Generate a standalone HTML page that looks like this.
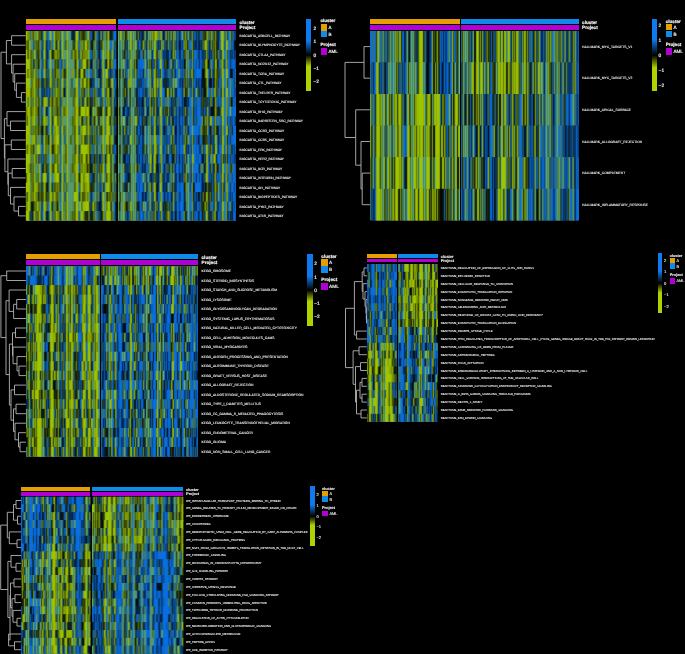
<!DOCTYPE html>
<html><head><meta charset="utf-8"><style>
html,body{margin:0;padding:0;background:#000;}
body{width:685px;height:654px;position:relative;overflow:hidden;font-family:"Liberation Sans",sans-serif;color:#f2f2f2;}
.r{position:absolute;}
.t{position:absolute;white-space:nowrap;line-height:1;transform:translateY(-50%);}
.b{font-weight:bold;}
#hm{position:absolute;left:0;top:0;}
.den{position:absolute;left:0;top:0;}
</style></head><body>
<div class="r fb" style="left:25.6px;top:31.00px;width:90.7px;height:9.48px;background:rgb(71,116,66)"></div><div class="r fb" style="left:117.8px;top:31.00px;width:118.0px;height:9.48px;background:rgb(64,111,74)"></div><div class="r fb" style="left:25.6px;top:40.48px;width:90.7px;height:9.48px;background:rgb(72,119,67)"></div><div class="r fb" style="left:117.8px;top:40.48px;width:118.0px;height:9.48px;background:rgb(56,104,80)"></div><div class="r fb" style="left:25.6px;top:49.96px;width:90.7px;height:9.48px;background:rgb(80,123,56)"></div><div class="r fb" style="left:117.8px;top:49.96px;width:118.0px;height:9.48px;background:rgb(46,99,95)"></div><div class="r fb" style="left:25.6px;top:59.44px;width:90.7px;height:9.48px;background:rgb(71,118,67)"></div><div class="r fb" style="left:117.8px;top:59.44px;width:118.0px;height:9.48px;background:rgb(45,103,106)"></div><div class="r fb" style="left:25.6px;top:68.92px;width:90.7px;height:9.48px;background:rgb(72,120,68)"></div><div class="r fb" style="left:117.8px;top:68.92px;width:118.0px;height:9.48px;background:rgb(48,104,102)"></div><div class="r fb" style="left:25.6px;top:78.40px;width:90.7px;height:9.48px;background:rgb(78,122,59)"></div><div class="r fb" style="left:117.8px;top:78.40px;width:118.0px;height:9.48px;background:rgb(47,99,92)"></div><div class="r fb" style="left:25.6px;top:87.88px;width:90.7px;height:9.48px;background:rgb(71,116,64)"></div><div class="r fb" style="left:117.8px;top:87.88px;width:118.0px;height:9.48px;background:rgb(50,104,94)"></div><div class="r fb" style="left:25.6px;top:97.36px;width:90.7px;height:9.48px;background:rgb(81,123,52)"></div><div class="r fb" style="left:117.8px;top:97.36px;width:118.0px;height:9.48px;background:rgb(38,93,103)"></div><div class="r fb" style="left:25.6px;top:106.84px;width:90.7px;height:9.48px;background:rgb(89,126,37)"></div><div class="r fb" style="left:117.8px;top:106.84px;width:118.0px;height:9.48px;background:rgb(40,92,95)"></div><div class="r fb" style="left:25.6px;top:116.32px;width:90.7px;height:9.48px;background:rgb(91,131,45)"></div><div class="r fb" style="left:117.8px;top:116.32px;width:118.0px;height:9.48px;background:rgb(47,105,105)"></div><div class="r fb" style="left:25.6px;top:125.80px;width:90.7px;height:9.48px;background:rgb(90,130,45)"></div><div class="r fb" style="left:117.8px;top:125.80px;width:118.0px;height:9.48px;background:rgb(43,97,101)"></div><div class="r fb" style="left:25.6px;top:135.28px;width:90.7px;height:9.48px;background:rgb(92,134,48)"></div><div class="r fb" style="left:117.8px;top:135.28px;width:118.0px;height:9.48px;background:rgb(43,102,108)"></div><div class="r fb" style="left:25.6px;top:144.76px;width:90.7px;height:9.48px;background:rgb(92,134,48)"></div><div class="r fb" style="left:117.8px;top:144.76px;width:118.0px;height:9.48px;background:rgb(47,104,102)"></div><div class="r fb" style="left:25.6px;top:154.24px;width:90.7px;height:9.48px;background:rgb(81,123,52)"></div><div class="r fb" style="left:117.8px;top:154.24px;width:118.0px;height:9.48px;background:rgb(40,97,107)"></div><div class="r fb" style="left:25.6px;top:163.72px;width:90.7px;height:9.48px;background:rgb(87,125,41)"></div><div class="r fb" style="left:117.8px;top:163.72px;width:118.0px;height:9.48px;background:rgb(45,100,100)"></div><div class="r fb" style="left:25.6px;top:173.20px;width:90.7px;height:9.48px;background:rgb(93,136,49)"></div><div class="r fb" style="left:117.8px;top:173.20px;width:118.0px;height:9.48px;background:rgb(39,98,110)"></div><div class="r fb" style="left:25.6px;top:182.68px;width:90.7px;height:9.48px;background:rgb(86,125,45)"></div><div class="r fb" style="left:117.8px;top:182.68px;width:118.0px;height:9.48px;background:rgb(41,97,103)"></div><div class="r fb" style="left:25.6px;top:192.16px;width:90.7px;height:9.48px;background:rgb(86,125,44)"></div><div class="r fb" style="left:117.8px;top:192.16px;width:118.0px;height:9.48px;background:rgb(42,99,107)"></div><div class="r fb" style="left:25.6px;top:201.64px;width:90.7px;height:9.48px;background:rgb(87,129,50)"></div><div class="r fb" style="left:117.8px;top:201.64px;width:118.0px;height:9.48px;background:rgb(47,100,96)"></div><div class="r fb" style="left:25.6px;top:211.12px;width:90.7px;height:9.48px;background:rgb(79,118,47)"></div><div class="r fb" style="left:117.8px;top:211.12px;width:118.0px;height:9.48px;background:rgb(41,97,103)"></div><div class="r fb" style="left:370.2px;top:30.80px;width:89.8px;height:31.62px;background:rgb(51,102,88)"></div><div class="r fb" style="left:461.1px;top:30.80px;width:117.6px;height:31.62px;background:rgb(66,110,63)"></div><div class="r fb" style="left:370.2px;top:62.42px;width:89.8px;height:31.62px;background:rgb(50,103,92)"></div><div class="r fb" style="left:461.1px;top:62.42px;width:117.6px;height:31.62px;background:rgb(77,120,58)"></div><div class="r fb" style="left:370.2px;top:94.03px;width:89.8px;height:31.62px;background:rgb(94,136,45)"></div><div class="r fb" style="left:461.1px;top:94.03px;width:117.6px;height:31.62px;background:rgb(48,97,84)"></div><div class="r fb" style="left:370.2px;top:125.65px;width:89.8px;height:31.62px;background:rgb(92,132,44)"></div><div class="r fb" style="left:461.1px;top:125.65px;width:117.6px;height:31.62px;background:rgb(44,97,96)"></div><div class="r fb" style="left:370.2px;top:157.27px;width:89.8px;height:31.62px;background:rgb(97,137,42)"></div><div class="r fb" style="left:461.1px;top:157.27px;width:117.6px;height:31.62px;background:rgb(50,103,94)"></div><div class="r fb" style="left:370.2px;top:188.88px;width:89.8px;height:31.62px;background:rgb(84,121,39)"></div><div class="r fb" style="left:461.1px;top:188.88px;width:117.6px;height:31.62px;background:rgb(46,99,97)"></div><div class="r fb" style="left:25.9px;top:266.20px;width:73.8px;height:9.52px;background:rgb(44,109,123)"></div><div class="r fb" style="left:101.2px;top:266.20px;width:96.7px;height:9.52px;background:rgb(71,117,65)"></div><div class="r fb" style="left:25.9px;top:275.71px;width:73.8px;height:9.52px;background:rgb(34,100,129)"></div><div class="r fb" style="left:101.2px;top:275.71px;width:96.7px;height:9.52px;background:rgb(72,116,60)"></div><div class="r fb" style="left:25.9px;top:285.23px;width:73.8px;height:9.52px;background:rgb(85,120,37)"></div><div class="r fb" style="left:101.2px;top:285.23px;width:96.7px;height:9.52px;background:rgb(38,95,109)"></div><div class="r fb" style="left:25.9px;top:294.75px;width:73.8px;height:9.52px;background:rgb(82,123,51)"></div><div class="r fb" style="left:101.2px;top:294.75px;width:96.7px;height:9.52px;background:rgb(31,91,119)"></div><div class="r fb" style="left:25.9px;top:304.26px;width:73.8px;height:9.52px;background:rgb(75,116,52)"></div><div class="r fb" style="left:101.2px;top:304.26px;width:96.7px;height:9.52px;background:rgb(37,97,114)"></div><div class="r fb" style="left:25.9px;top:313.77px;width:73.8px;height:9.52px;background:rgb(84,128,56)"></div><div class="r fb" style="left:101.2px;top:313.77px;width:96.7px;height:9.52px;background:rgb(30,91,121)"></div><div class="r fb" style="left:25.9px;top:323.29px;width:73.8px;height:9.52px;background:rgb(82,123,51)"></div><div class="r fb" style="left:101.2px;top:323.29px;width:96.7px;height:9.52px;background:rgb(34,96,119)"></div><div class="r fb" style="left:25.9px;top:332.81px;width:73.8px;height:9.52px;background:rgb(88,126,40)"></div><div class="r fb" style="left:101.2px;top:332.81px;width:96.7px;height:9.52px;background:rgb(38,95,109)"></div><div class="r fb" style="left:25.9px;top:342.32px;width:73.8px;height:9.52px;background:rgb(80,122,53)"></div><div class="r fb" style="left:101.2px;top:342.32px;width:96.7px;height:9.52px;background:rgb(44,103,110)"></div><div class="r fb" style="left:25.9px;top:351.83px;width:73.8px;height:9.52px;background:rgb(78,118,49)"></div><div class="r fb" style="left:101.2px;top:351.83px;width:96.7px;height:9.52px;background:rgb(39,101,118)"></div><div class="r fb" style="left:25.9px;top:361.35px;width:73.8px;height:9.52px;background:rgb(78,121,56)"></div><div class="r fb" style="left:101.2px;top:361.35px;width:96.7px;height:9.52px;background:rgb(35,98,122)"></div><div class="r fb" style="left:25.9px;top:370.87px;width:73.8px;height:9.52px;background:rgb(81,119,43)"></div><div class="r fb" style="left:101.2px;top:370.87px;width:96.7px;height:9.52px;background:rgb(37,92,104)"></div><div class="r fb" style="left:25.9px;top:380.38px;width:73.8px;height:9.52px;background:rgb(77,115,47)"></div><div class="r fb" style="left:101.2px;top:380.38px;width:96.7px;height:9.52px;background:rgb(37,100,120)"></div><div class="r fb" style="left:25.9px;top:389.89px;width:73.8px;height:9.52px;background:rgb(79,113,35)"></div><div class="r fb" style="left:101.2px;top:389.89px;width:96.7px;height:9.52px;background:rgb(38,102,126)"></div><div class="r fb" style="left:25.9px;top:399.41px;width:73.8px;height:9.52px;background:rgb(81,119,44)"></div><div class="r fb" style="left:101.2px;top:399.41px;width:96.7px;height:9.52px;background:rgb(39,101,119)"></div><div class="r fb" style="left:25.9px;top:408.93px;width:73.8px;height:9.52px;background:rgb(75,113,46)"></div><div class="r fb" style="left:101.2px;top:408.93px;width:96.7px;height:9.52px;background:rgb(38,96,110)"></div><div class="r fb" style="left:25.9px;top:418.44px;width:73.8px;height:9.52px;background:rgb(88,127,42)"></div><div class="r fb" style="left:101.2px;top:418.44px;width:96.7px;height:9.52px;background:rgb(35,93,114)"></div><div class="r fb" style="left:25.9px;top:427.95px;width:73.8px;height:9.52px;background:rgb(85,119,33)"></div><div class="r fb" style="left:101.2px;top:427.95px;width:96.7px;height:9.52px;background:rgb(38,95,107)"></div><div class="r fb" style="left:25.9px;top:437.47px;width:73.8px;height:9.52px;background:rgb(83,120,42)"></div><div class="r fb" style="left:101.2px;top:437.47px;width:96.7px;height:9.52px;background:rgb(35,96,119)"></div><div class="r fb" style="left:25.9px;top:446.99px;width:73.8px;height:9.52px;background:rgb(75,113,47)"></div><div class="r fb" style="left:101.2px;top:446.99px;width:96.7px;height:9.52px;background:rgb(31,84,103)"></div><div class="r fb" style="left:366.9px;top:264.00px;width:29.8px;height:7.89px;background:rgb(26,92,134)"></div><div class="r fb" style="left:398.2px;top:264.00px;width:39.8px;height:7.89px;background:rgb(96,131,30)"></div><div class="r fb" style="left:366.9px;top:271.89px;width:29.8px;height:7.89px;background:rgb(26,87,123)"></div><div class="r fb" style="left:398.2px;top:271.89px;width:39.8px;height:7.89px;background:rgb(91,124,29)"></div><div class="r fb" style="left:366.9px;top:279.78px;width:29.8px;height:7.89px;background:rgb(35,100,127)"></div><div class="r fb" style="left:398.2px;top:279.78px;width:39.8px;height:7.89px;background:rgb(98,132,25)"></div><div class="r fb" style="left:366.9px;top:287.67px;width:29.8px;height:7.89px;background:rgb(25,97,148)"></div><div class="r fb" style="left:398.2px;top:287.67px;width:39.8px;height:7.89px;background:rgb(92,124,26)"></div><div class="r fb" style="left:366.9px;top:295.56px;width:29.8px;height:7.89px;background:rgb(16,83,142)"></div><div class="r fb" style="left:398.2px;top:295.56px;width:39.8px;height:7.89px;background:rgb(104,142,31)"></div><div class="r fb" style="left:366.9px;top:303.45px;width:29.8px;height:7.89px;background:rgb(30,94,126)"></div><div class="r fb" style="left:398.2px;top:303.45px;width:39.8px;height:7.89px;background:rgb(98,132,26)"></div><div class="r fb" style="left:366.9px;top:311.34px;width:29.8px;height:7.89px;background:rgb(30,84,106)"></div><div class="r fb" style="left:398.2px;top:311.34px;width:39.8px;height:7.89px;background:rgb(88,128,45)"></div><div class="r fb" style="left:366.9px;top:319.23px;width:29.8px;height:7.89px;background:rgb(31,91,119)"></div><div class="r fb" style="left:398.2px;top:319.23px;width:39.8px;height:7.89px;background:rgb(86,112,15)"></div><div class="r fb" style="left:366.9px;top:327.12px;width:29.8px;height:7.89px;background:rgb(43,100,106)"></div><div class="r fb" style="left:398.2px;top:327.12px;width:39.8px;height:7.89px;background:rgb(55,103,78)"></div><div class="r fb" style="left:366.9px;top:335.01px;width:29.8px;height:7.89px;background:rgb(35,96,117)"></div><div class="r fb" style="left:398.2px;top:335.01px;width:39.8px;height:7.89px;background:rgb(45,97,92)"></div><div class="r fb" style="left:366.9px;top:342.90px;width:29.8px;height:7.89px;background:rgb(84,127,54)"></div><div class="r fb" style="left:398.2px;top:342.90px;width:39.8px;height:7.89px;background:rgb(29,90,122)"></div><div class="r fb" style="left:366.9px;top:350.79px;width:29.8px;height:7.89px;background:rgb(91,127,35)"></div><div class="r fb" style="left:398.2px;top:350.79px;width:39.8px;height:7.89px;background:rgb(39,96,108)"></div><div class="r fb" style="left:366.9px;top:358.68px;width:29.8px;height:7.89px;background:rgb(97,132,27)"></div><div class="r fb" style="left:398.2px;top:358.68px;width:39.8px;height:7.89px;background:rgb(32,92,116)"></div><div class="r fb" style="left:366.9px;top:366.57px;width:29.8px;height:7.89px;background:rgb(100,128,10)"></div><div class="r fb" style="left:398.2px;top:366.57px;width:39.8px;height:7.89px;background:rgb(39,101,117)"></div><div class="r fb" style="left:366.9px;top:374.46px;width:29.8px;height:7.89px;background:rgb(95,132,36)"></div><div class="r fb" style="left:398.2px;top:374.46px;width:39.8px;height:7.89px;background:rgb(32,85,103)"></div><div class="r fb" style="left:366.9px;top:382.35px;width:29.8px;height:7.89px;background:rgb(85,129,54)"></div><div class="r fb" style="left:398.2px;top:382.35px;width:39.8px;height:7.89px;background:rgb(47,106,109)"></div><div class="r fb" style="left:366.9px;top:390.24px;width:29.8px;height:7.89px;background:rgb(82,123,51)"></div><div class="r fb" style="left:398.2px;top:390.24px;width:39.8px;height:7.89px;background:rgb(41,92,91)"></div><div class="r fb" style="left:366.9px;top:398.13px;width:29.8px;height:7.89px;background:rgb(95,135,41)"></div><div class="r fb" style="left:398.2px;top:398.13px;width:39.8px;height:7.89px;background:rgb(43,96,95)"></div><div class="r fb" style="left:366.9px;top:406.02px;width:29.8px;height:7.89px;background:rgb(94,135,45)"></div><div class="r fb" style="left:398.2px;top:406.02px;width:39.8px;height:7.89px;background:rgb(36,91,102)"></div><div class="r fb" style="left:366.9px;top:413.91px;width:29.8px;height:7.89px;background:rgb(82,120,43)"></div><div class="r fb" style="left:398.2px;top:413.91px;width:39.8px;height:7.89px;background:rgb(38,98,114)"></div><div class="r fb" style="left:21.0px;top:496.60px;width:69.4px;height:7.85px;background:rgb(34,98,126)"></div><div class="r fb" style="left:91.8px;top:496.60px;width:91.5px;height:7.85px;background:rgb(74,119,60)"></div><div class="r fb" style="left:21.0px;top:504.45px;width:69.4px;height:7.85px;background:rgb(32,93,119)"></div><div class="r fb" style="left:91.8px;top:504.45px;width:91.5px;height:7.85px;background:rgb(67,111,64)"></div><div class="r fb" style="left:21.0px;top:512.30px;width:69.4px;height:7.85px;background:rgb(32,91,115)"></div><div class="r fb" style="left:91.8px;top:512.30px;width:91.5px;height:7.85px;background:rgb(76,117,53)"></div><div class="r fb" style="left:21.0px;top:520.15px;width:69.4px;height:7.85px;background:rgb(35,99,123)"></div><div class="r fb" style="left:91.8px;top:520.15px;width:91.5px;height:7.85px;background:rgb(75,120,63)"></div><div class="r fb" style="left:21.0px;top:528.00px;width:69.4px;height:7.85px;background:rgb(29,93,129)"></div><div class="r fb" style="left:91.8px;top:528.00px;width:91.5px;height:7.85px;background:rgb(74,119,62)"></div><div class="r fb" style="left:21.0px;top:535.85px;width:69.4px;height:7.85px;background:rgb(24,82,117)"></div><div class="r fb" style="left:91.8px;top:535.85px;width:91.5px;height:7.85px;background:rgb(77,122,61)"></div><div class="r fb" style="left:21.0px;top:543.70px;width:69.4px;height:7.85px;background:rgb(37,101,125)"></div><div class="r fb" style="left:91.8px;top:543.70px;width:91.5px;height:7.85px;background:rgb(72,115,61)"></div><div class="r fb" style="left:21.0px;top:551.55px;width:69.4px;height:7.85px;background:rgb(67,114,71)"></div><div class="r fb" style="left:91.8px;top:551.55px;width:91.5px;height:7.85px;background:rgb(35,96,119)"></div><div class="r fb" style="left:21.0px;top:559.40px;width:69.4px;height:7.85px;background:rgb(62,107,70)"></div><div class="r fb" style="left:91.8px;top:559.40px;width:91.5px;height:7.85px;background:rgb(35,99,124)"></div><div class="r fb" style="left:21.0px;top:567.25px;width:69.4px;height:7.85px;background:rgb(73,123,75)"></div><div class="r fb" style="left:91.8px;top:567.25px;width:91.5px;height:7.85px;background:rgb(36,98,120)"></div><div class="r fb" style="left:21.0px;top:575.10px;width:69.4px;height:7.85px;background:rgb(71,117,67)"></div><div class="r fb" style="left:91.8px;top:575.10px;width:91.5px;height:7.85px;background:rgb(33,96,123)"></div><div class="r fb" style="left:21.0px;top:582.95px;width:69.4px;height:7.85px;background:rgb(71,112,56)"></div><div class="r fb" style="left:91.8px;top:582.95px;width:91.5px;height:7.85px;background:rgb(32,90,114)"></div><div class="r fb" style="left:21.0px;top:590.80px;width:69.4px;height:7.85px;background:rgb(69,112,63)"></div><div class="r fb" style="left:91.8px;top:590.80px;width:91.5px;height:7.85px;background:rgb(30,91,119)"></div><div class="r fb" style="left:21.0px;top:598.65px;width:69.4px;height:7.85px;background:rgb(69,115,70)"></div><div class="r fb" style="left:91.8px;top:598.65px;width:91.5px;height:7.85px;background:rgb(36,98,119)"></div><div class="r fb" style="left:21.0px;top:606.50px;width:69.4px;height:7.85px;background:rgb(78,127,71)"></div><div class="r fb" style="left:91.8px;top:606.50px;width:91.5px;height:7.85px;background:rgb(36,102,129)"></div><div class="r fb" style="left:21.0px;top:614.35px;width:69.4px;height:7.85px;background:rgb(65,110,68)"></div><div class="r fb" style="left:91.8px;top:614.35px;width:91.5px;height:7.85px;background:rgb(31,95,127)"></div><div class="r fb" style="left:21.0px;top:622.20px;width:69.4px;height:7.85px;background:rgb(69,114,65)"></div><div class="r fb" style="left:91.8px;top:622.20px;width:91.5px;height:7.85px;background:rgb(34,92,112)"></div><div class="r fb" style="left:21.0px;top:630.05px;width:69.4px;height:7.85px;background:rgb(71,113,56)"></div><div class="r fb" style="left:91.8px;top:630.05px;width:91.5px;height:7.85px;background:rgb(37,103,129)"></div><div class="r fb" style="left:21.0px;top:637.90px;width:69.4px;height:7.85px;background:rgb(78,125,66)"></div><div class="r fb" style="left:91.8px;top:637.90px;width:91.5px;height:7.85px;background:rgb(39,99,114)"></div><div class="r fb" style="left:21.0px;top:645.75px;width:69.4px;height:7.85px;background:rgb(66,120,87)"></div><div class="r fb" style="left:91.8px;top:645.75px;width:91.5px;height:7.85px;background:rgb(39,101,118)"></div>
<canvas id="hm" width="685" height="654"></canvas>
<svg class="den" width="685" height="654" viewBox="0 0 685 654"><path d="M25.6 35.7H11.6V45.2H25.6M25.6 92.6H21.4V102.1H25.6M25.6 83.1H16.4V97.4H21.4M25.6 73.7H14.7V90.2H16.4M25.6 64.2H13.1V82.0H14.7M25.6 54.7H11.6V73.1H13.1M11.6 40.5H6.4V63.9H11.6M25.6 121.1H10.5V130.5H25.6M25.6 111.6H7.0V125.8H10.5M25.6 140.0H11.3V149.5H25.6M25.6 168.5H12.2V177.9H25.6M25.6 206.4H18.5V215.9H25.6M25.6 196.9H14.0V211.1H18.5M25.6 187.4H10.5V204.0H14.0M12.2 173.2H8.3V195.7H10.5M25.6 159.0H7.9V184.5H8.3M11.3 144.8H4.9V171.7H7.9M7.0 118.7H4.4V158.2H4.9M6.4 52.2H1.0V138.5H4.4M370.2 46.6H364.0V78.2H370.2M370.2 173.1H362.2V204.7H370.2M370.2 141.5H361.0V188.9H362.2M370.2 109.8H355.7V165.2H361.0M364.0 62.4H345.0V137.5H355.7M25.9 271.0H6.7V280.5H25.9M25.9 299.5H16.7V309.0H25.9M16.7 304.3H13.6V318.5H25.9M25.9 290.0H9.1V311.4H13.6M25.9 328.0H15.5V337.6H25.9M25.9 366.1H19.0V375.6H25.9M25.9 356.6H17.0V370.9H19.0M25.9 347.1H13.0V363.7H17.0M15.5 332.8H12.5V355.4H13.0M25.9 385.1H14.5V394.7H25.9M25.9 404.2H16.0V413.7H25.9M25.9 442.2H20.0V451.7H25.9M25.9 432.7H18.5V447.0H20.0M25.9 423.2H15.0V439.8H18.5M16.0 408.9H13.5V431.5H15.0M14.5 389.9H11.0V420.2H13.5M12.5 344.1H9.4V405.1H11.0M9.1 300.7H6.0V374.6H9.4M6.7 275.7H0.9V337.6H6.0M366.9 267.9H364.0V275.8H366.9M366.9 315.3H366.5V323.2H366.9M366.9 307.4H366.3V319.2H366.5M366.9 299.5H366.0V313.3H366.3M366.9 291.6H365.0V306.4H366.0M366.9 283.7H363.0V299.0H365.0M364.0 271.9H362.2V291.4H363.0M366.9 331.1H356.6V339.0H366.9M362.2 281.6H354.4V335.0H356.6M366.9 346.8H359.0V354.7H366.9M366.9 362.6H360.5V370.5H366.9M366.9 378.4H362.0V386.3H366.9M366.9 394.2H362.0V402.1H366.9M362.0 382.4H360.0V398.1H362.0M366.9 410.0H361.0V417.9H366.9M360.0 390.2H356.5V413.9H361.0M360.5 366.6H355.5V402.1H356.5M359.0 350.8H353.1V384.3H355.5M354.4 308.3H345.5V367.6H353.1M21.0 500.5H16.0V508.4H21.0M21.0 516.2H17.5V524.1H21.0M16.0 504.5H13.5V520.2H17.5M21.0 539.8H17.0V547.6H21.0M21.0 531.9H9.3V543.7H17.0M13.5 512.3H7.3V537.8H9.3M21.0 563.3H16.0V571.2H21.0M21.0 555.5H11.0V567.2H16.0M21.0 579.0H14.0V586.9H21.0M21.0 594.7H15.0V602.6H21.0M21.0 618.3H17.0V626.1H21.0M21.0 610.4H13.0V622.2H17.0M15.0 598.7H12.0V616.3H13.0M14.0 583.0H10.5V607.5H12.0M21.0 641.8H14.5V649.7H21.0M21.0 634.0H8.6V645.8H14.5M10.5 595.2H10.0V639.9H8.6M11.0 561.4H7.9V617.5H10.0M7.3 525.1H0.7V589.5H7.9" fill="none" stroke="#b4b4b4" stroke-width="0.9"/></svg>
<div class="r" style="left:25.6px;top:19.0px;width:90.7px;height:5.0px;background:#E69F00"></div><div class="r" style="left:117.8px;top:19.0px;width:118.0px;height:5.0px;background:#0F8BEA"></div><div class="r" style="left:25.6px;top:25.0px;width:90.7px;height:4.8px;background:#B000D4"></div><div class="r" style="left:117.8px;top:25.0px;width:118.0px;height:4.8px;background:#B000D4"></div><div class="r" style="left:306.4px;top:19.0px;width:4.9px;height:71.6px;background:linear-gradient(to bottom,#0E7AEB 30.6%,#000 50.1%,#B2D200 65.9%)"></div><div class="r" style="left:320.5px;top:24.0px;width:6.5px;height:6.7px;background:#E69F00"></div><div class="r" style="left:320.5px;top:30.7px;width:6.5px;height:6.7px;background:#0F8BEA"></div><div class="r" style="left:320.5px;top:48.3px;width:6.5px;height:6.5px;background:#B000D4"></div><div class="r" style="left:370.2px;top:18.9px;width:89.8px;height:5.1px;background:#E69F00"></div><div class="r" style="left:461.1px;top:18.9px;width:117.6px;height:5.1px;background:#0F8BEA"></div><div class="r" style="left:370.2px;top:24.8px;width:89.8px;height:5.0px;background:#B000D4"></div><div class="r" style="left:461.1px;top:24.8px;width:117.6px;height:5.0px;background:#B000D4"></div><div class="r" style="left:651.9px;top:18.7px;width:5.1px;height:72.2px;background:linear-gradient(to bottom,#0E7AEB 28.6%,#000 50.3%,#B2D200 67.8%)"></div><div class="r" style="left:665.7px;top:24.3px;width:6.3px;height:6.2px;background:#E69F00"></div><div class="r" style="left:665.7px;top:30.5px;width:6.3px;height:6.7px;background:#0F8BEA"></div><div class="r" style="left:665.7px;top:48.3px;width:6.3px;height:6.5px;background:#B000D4"></div><div class="r" style="left:25.9px;top:254.4px;width:73.8px;height:4.7px;background:#E69F00"></div><div class="r" style="left:101.2px;top:254.4px;width:96.7px;height:4.7px;background:#0F8BEA"></div><div class="r" style="left:25.9px;top:260.1px;width:73.8px;height:4.8px;background:#B000D4"></div><div class="r" style="left:101.2px;top:260.1px;width:96.7px;height:4.8px;background:#B000D4"></div><div class="r" style="left:307.3px;top:253.9px;width:5.3px;height:72.1px;background:linear-gradient(to bottom,#0E7AEB 30.8%,#000 50.2%,#B2D200 65.9%)"></div><div class="r" style="left:321.3px;top:259.4px;width:6.4px;height:6.8px;background:#E69F00"></div><div class="r" style="left:321.3px;top:266.2px;width:6.4px;height:6.6px;background:#0F8BEA"></div><div class="r" style="left:321.3px;top:282.8px;width:6.4px;height:7.1px;background:#B000D4"></div><div class="r" style="left:366.9px;top:254.3px;width:29.8px;height:3.4px;background:#E69F00"></div><div class="r" style="left:398.2px;top:254.3px;width:39.8px;height:3.4px;background:#0F8BEA"></div><div class="r" style="left:366.9px;top:259.1px;width:29.8px;height:3.4px;background:#B000D4"></div><div class="r" style="left:398.2px;top:259.1px;width:39.8px;height:3.4px;background:#B000D4"></div><div class="r" style="left:658.1px;top:253.4px;width:3.9px;height:59.8px;background:linear-gradient(to bottom,#0E7AEB 30.2%,#000 50.2%,#B2D200 66.4%)"></div><div class="r" style="left:669.8px;top:258.0px;width:5.3px;height:5.4px;background:#E69F00"></div><div class="r" style="left:669.8px;top:263.4px;width:5.3px;height:5.8px;background:#0F8BEA"></div><div class="r" style="left:669.8px;top:278.1px;width:5.3px;height:5.6px;background:#B000D4"></div><div class="r" style="left:21.0px;top:487.0px;width:69.4px;height:3.8px;background:#E69F00"></div><div class="r" style="left:91.8px;top:487.0px;width:91.5px;height:3.8px;background:#0F8BEA"></div><div class="r" style="left:21.0px;top:492.0px;width:69.4px;height:3.8px;background:#B000D4"></div><div class="r" style="left:91.8px;top:492.0px;width:91.5px;height:3.8px;background:#B000D4"></div><div class="r" style="left:310.3px;top:486.4px;width:4.5px;height:59.4px;background:linear-gradient(to bottom,#0E7AEB 31.4%,#000 50.3%,#B2D200 65.6%)"></div><div class="r" style="left:321.9px;top:491.0px;width:6.1px;height:5.3px;background:#E69F00"></div><div class="r" style="left:321.9px;top:496.3px;width:6.1px;height:5.7px;background:#0F8BEA"></div><div class="r" style="left:321.9px;top:510.8px;width:6.1px;height:5.4px;background:#B000D4"></div>
<svg class="den" width="685" height="654" viewBox="0 0 685 654" fill="#f2f2f2" stroke="#f2f2f2" stroke-width="0.18" font-family="Liberation Sans, sans-serif" text-rendering="geometricPrecision"><text x="239.60" y="23.60" font-size="4.60" font-weight="bold">cluster</text><text x="239.60" y="28.78" font-size="4.60" font-weight="bold">Project</text><text x="239.60" y="36.92" font-size="3.30" stroke-width="0.1">BIOCARTA_ASBCELL_PATHWAY</text><text x="239.60" y="46.40" font-size="3.30" stroke-width="0.1">BIOCARTA_BLYMPHOCYTE_PATHWAY</text><text x="239.60" y="55.88" font-size="3.30" stroke-width="0.1">BIOCARTA_CTLA4_PATHWAY</text><text x="239.60" y="65.36" font-size="3.30" stroke-width="0.1">BIOCARTA_NO2IL12_PATHWAY</text><text x="239.60" y="74.84" font-size="3.30" stroke-width="0.1">BIOCARTA_TCRA_PATHWAY</text><text x="239.60" y="84.32" font-size="3.30" stroke-width="0.1">BIOCARTA_CTL_PATHWAY</text><text x="239.60" y="93.80" font-size="3.30" stroke-width="0.1">BIOCARTA_THELPER_PATHWAY</text><text x="239.60" y="103.28" font-size="3.30" stroke-width="0.1">BIOCARTA_TCYTOTOXIC_PATHWAY</text><text x="239.60" y="112.76" font-size="3.30" stroke-width="0.1">BIOCARTA_RHO_PATHWAY</text><text x="239.60" y="122.24" font-size="3.30" stroke-width="0.1">BIOCARTA_BARRESTIN_SRC_PATHWAY</text><text x="239.60" y="131.72" font-size="3.30" stroke-width="0.1">BIOCARTA_CCR3_PATHWAY</text><text x="239.60" y="141.20" font-size="3.30" stroke-width="0.1">BIOCARTA_CCR5_PATHWAY</text><text x="239.60" y="150.68" font-size="3.30" stroke-width="0.1">BIOCARTA_ERK_PATHWAY</text><text x="239.60" y="160.16" font-size="3.30" stroke-width="0.1">BIOCARTA_HER2_PATHWAY</text><text x="239.60" y="169.64" font-size="3.30" stroke-width="0.1">BIOCARTA_BCR_PATHWAY</text><text x="239.60" y="179.12" font-size="3.30" stroke-width="0.1">BIOCARTA_INTEGRIN_PATHWAY</text><text x="239.60" y="188.60" font-size="3.30" stroke-width="0.1">BIOCARTA_GH_PATHWAY</text><text x="239.60" y="198.08" font-size="3.30" stroke-width="0.1">BIOCARTA_BIOPEPTIDES_PATHWAY</text><text x="239.60" y="207.56" font-size="3.30" stroke-width="0.1">BIOCARTA_PYK2_PATHWAY</text><text x="239.60" y="217.04" font-size="3.30" stroke-width="0.1">BIOCARTA_AT1R_PATHWAY</text><text x="313.40" y="30.02" font-size="4.80">2</text><text x="313.40" y="43.32" font-size="4.80">1</text><text x="313.40" y="56.62" font-size="4.80">0</text><text x="313.40" y="69.92" font-size="4.80">−1</text><text x="313.40" y="83.22" font-size="4.80">−2</text><text x="320.50" y="22.16" font-size="4.50" font-weight="bold">cluster</text><text x="328.40" y="28.96" font-size="4.50">A</text><text x="328.40" y="35.66" font-size="4.50">B</text><text x="320.50" y="45.85" font-size="4.50" font-weight="bold">Project</text><text x="328.40" y="53.16" font-size="4.50">AML</text><text x="582.10" y="23.55" font-size="4.60" font-weight="bold">cluster</text><text x="582.10" y="28.68" font-size="4.60" font-weight="bold">Project</text><text x="582.10" y="47.80" font-size="3.32" stroke-width="0.1">HALLMARK_MYC_TARGETS_V1</text><text x="582.10" y="79.41" font-size="3.32" stroke-width="0.1">HALLMARK_MYC_TARGETS_V2</text><text x="582.10" y="111.03" font-size="3.32" stroke-width="0.1">HALLMARK_APICAL_SURFACE</text><text x="582.10" y="142.65" font-size="3.32" stroke-width="0.1">HALLMARK_ALLOGRAFT_REJECTION</text><text x="582.10" y="174.26" font-size="3.32" stroke-width="0.1">HALLMARK_COMPLEMENT</text><text x="582.10" y="205.88" font-size="3.32" stroke-width="0.1">HALLMARK_INFLAMMATORY_RESPONSE</text><text x="658.60" y="26.92" font-size="4.80">2</text><text x="658.60" y="41.82" font-size="4.80">1</text><text x="658.60" y="56.72" font-size="4.80">0</text><text x="658.60" y="71.62" font-size="4.80">−1</text><text x="658.60" y="86.52" font-size="4.80">−2</text><text x="665.70" y="22.60" font-size="4.60" font-weight="bold">cluster</text><text x="673.40" y="29.05" font-size="4.60">A</text><text x="673.40" y="35.50" font-size="4.60">B</text><text x="665.70" y="46.08" font-size="4.60" font-weight="bold">Project</text><text x="673.40" y="53.20" font-size="4.60">AML</text><text x="201.50" y="258.89" font-size="4.70" font-weight="bold">cluster</text><text x="201.50" y="263.91" font-size="4.70" font-weight="bold">Project</text><text x="201.50" y="272.15" font-size="3.33" stroke-width="0.1">KEGG_RIBOSOME</text><text x="201.50" y="281.66" font-size="3.33" stroke-width="0.1">KEGG_STEROID_BIOSYNTHESIS</text><text x="201.50" y="291.18" font-size="3.33" stroke-width="0.1">KEGG_STARCH_AND_SUCROSE_METABOLISM</text><text x="201.50" y="300.69" font-size="3.33" stroke-width="0.1">KEGG_LYSOSOME</text><text x="201.50" y="310.21" font-size="3.33" stroke-width="0.1">KEGG_GLYCOSAMINOGLYCAN_DEGRADATION</text><text x="201.50" y="319.72" font-size="3.33" stroke-width="0.1">KEGG_SYSTEMIC_LUPUS_ERYTHEMATOSUS</text><text x="201.50" y="329.24" font-size="3.33" stroke-width="0.1">KEGG_NATURAL_KILLER_CELL_MEDIATED_CYTOTOXICITY</text><text x="201.50" y="338.75" font-size="3.33" stroke-width="0.1">KEGG_CELL_ADHESION_MOLECULES_CAMS</text><text x="201.50" y="348.27" font-size="3.33" stroke-width="0.1">KEGG_VIRAL_MYOCARDITIS</text><text x="201.50" y="357.78" font-size="3.33" stroke-width="0.1">KEGG_ANTIGEN_PROCESSING_AND_PRESENTATION</text><text x="201.50" y="367.30" font-size="3.33" stroke-width="0.1">KEGG_AUTOIMMUNE_THYROID_DISEASE</text><text x="201.50" y="376.81" font-size="3.33" stroke-width="0.1">KEGG_GRAFT_VERSUS_HOST_DISEASE</text><text x="201.50" y="386.33" font-size="3.33" stroke-width="0.1">KEGG_ALLOGRAFT_REJECTION</text><text x="201.50" y="395.84" font-size="3.33" stroke-width="0.1">KEGG_ALDOSTERONE_REGULATED_SODIUM_REABSORPTION</text><text x="201.50" y="405.36" font-size="3.33" stroke-width="0.1">KEGG_TYPE_I_DIABETES_MELLITUS</text><text x="201.50" y="414.87" font-size="3.33" stroke-width="0.1">KEGG_FC_GAMMA_R_MEDIATED_PHAGOCYTOSIS</text><text x="201.50" y="424.39" font-size="3.33" stroke-width="0.1">KEGG_LEUKOCYTE_TRANSENDOTHELIAL_MIGRATION</text><text x="201.50" y="433.90" font-size="3.33" stroke-width="0.1">KEGG_ENDOMETRIAL_CANCER</text><text x="201.50" y="443.42" font-size="3.33" stroke-width="0.1">KEGG_GLIOMA</text><text x="201.50" y="452.93" font-size="3.33" stroke-width="0.1">KEGG_NON_SMALL_CELL_LUNG_CANCER</text><text x="314.30" y="265.22" font-size="4.80">2</text><text x="314.30" y="278.52" font-size="4.80">1</text><text x="314.30" y="291.82" font-size="4.80">0</text><text x="314.30" y="305.12" font-size="4.80">−1</text><text x="314.30" y="318.42" font-size="4.80">−2</text><text x="321.30" y="257.84" font-size="4.70" font-weight="bold">cluster</text><text x="329.10" y="264.48" font-size="4.70">A</text><text x="329.10" y="271.18" font-size="4.70">B</text><text x="321.30" y="281.21" font-size="4.70" font-weight="bold">Project</text><text x="329.10" y="288.03" font-size="4.70">AML</text><text x="440.70" y="257.86" font-size="3.95" font-weight="bold" stroke-width="0.1">cluster</text><text x="440.70" y="261.99" font-size="3.95" font-weight="bold" stroke-width="0.1">Project</text><text x="440.70" y="268.94" font-size="2.77" stroke-width="0.07">REACTOME_REGULATION_OF_EXPRESSION_OF_SLITS_AND_ROBOS</text><text x="440.70" y="276.83" font-size="2.77" stroke-width="0.07">REACTOME_INFLUENZA_INFECTION</text><text x="440.70" y="284.72" font-size="2.77" stroke-width="0.07">REACTOME_CELLULAR_RESPONSE_TO_STARVATION</text><text x="440.70" y="292.61" font-size="2.77" stroke-width="0.07">REACTOME_EUKARYOTIC_TRANSLATION_INITIATION</text><text x="440.70" y="300.50" font-size="2.77" stroke-width="0.07">REACTOME_NONSENSE_MEDIATED_DECAY_NMD</text><text x="440.70" y="308.39" font-size="2.77" stroke-width="0.07">REACTOME_SELENOAMINO_ACID_METABOLISM</text><text x="440.70" y="316.28" font-size="2.77" stroke-width="0.07">REACTOME_RESPONSE_OF_EIF2AK4_GCN2_TO_AMINO_ACID_DEFICIENCY</text><text x="440.70" y="324.17" font-size="2.77" stroke-width="0.07">REACTOME_EUKARYOTIC_TRANSLATION_ELONGATION</text><text x="440.70" y="332.06" font-size="2.77" stroke-width="0.07">REACTOME_RHOBTB_GTPASE_CYCLE</text><text x="440.70" y="339.95" font-size="2.77" stroke-width="0.07">REACTOME_TP53_REGULATES_TRANSCRIPTION_OF_ADDITIONAL_CELL_CYCLE_GENES_WHOSE_EXACT_ROLE_IN_THE_P53_PATHWAY_REMAIN_UNCERTAIN</text><text x="440.70" y="347.84" font-size="2.77" stroke-width="0.07">REACTOME_SCAVENGING_OF_HEME_FROM_PLASMA</text><text x="440.70" y="355.73" font-size="2.77" stroke-width="0.07">REACTOME_ANTIMICROBIAL_PEPTIDES</text><text x="440.70" y="363.62" font-size="2.77" stroke-width="0.07">REACTOME_FCGR_ACTIVATION</text><text x="440.70" y="371.51" font-size="2.77" stroke-width="0.07">REACTOME_IMMUNOREGULATORY_INTERACTIONS_BETWEEN_A_LYMPHOID_AND_A_NON_LYMPHOID_CELL</text><text x="440.70" y="379.40" font-size="2.77" stroke-width="0.07">REACTOME_CELL_SURFACE_INTERACTIONS_AT_THE_VASCULAR_WALL</text><text x="440.70" y="387.29" font-size="2.77" stroke-width="0.07">REACTOME_ADVANCED_GLYCOSYLATION_ENDPRODUCT_RECEPTOR_SIGNALING</text><text x="440.70" y="395.18" font-size="2.77" stroke-width="0.07">REACTOME_G_BETA_GAMMA_SIGNALING_THROUGH_PI3KGAMMA</text><text x="440.70" y="403.07" font-size="2.77" stroke-width="0.07">REACTOME_DECTIN_2_FAMILY</text><text x="440.70" y="410.96" font-size="2.77" stroke-width="0.07">REACTOME_EPHB_MEDIATED_FORWARD_SIGNALING</text><text x="440.70" y="418.85" font-size="2.77" stroke-width="0.07">REACTOME_EPH_EPHRIN_SIGNALING</text><text x="664.00" y="262.07" font-size="4.10" stroke-width="0.1">2</text><text x="664.00" y="273.47" font-size="4.10" stroke-width="0.1">1</text><text x="664.00" y="284.87" font-size="4.10" stroke-width="0.1">0</text><text x="664.00" y="296.27" font-size="4.10" stroke-width="0.1">−1</text><text x="664.00" y="307.67" font-size="4.10" stroke-width="0.1">−2</text><text x="669.80" y="256.51" font-size="3.80" font-weight="bold" stroke-width="0.1">cluster</text><text x="676.50" y="262.06" font-size="3.80" stroke-width="0.1">A</text><text x="676.50" y="267.66" font-size="3.80" stroke-width="0.1">B</text><text x="669.80" y="276.24" font-size="3.80" font-weight="bold" stroke-width="0.1">Project</text><text x="676.50" y="282.26" font-size="3.80" stroke-width="0.1">AML</text><text x="186.10" y="490.71" font-size="3.80" font-weight="bold" stroke-width="0.1">cluster</text><text x="186.10" y="495.04" font-size="3.80" font-weight="bold" stroke-width="0.1">Project</text><text x="186.10" y="501.51" font-size="2.75" stroke-width="0.07">WP_INTRAFLAGELLAR_TRANSPORT_PROTEINS_BINDING_TO_DYNEIN</text><text x="186.10" y="509.36" font-size="2.75" stroke-width="0.07">WP_GENES_RELATED_TO_PRIMARY_CILIUM_DEVELOPMENT_BASED_ON_CRISPR</text><text x="186.10" y="517.21" font-size="2.75" stroke-width="0.07">WP_BARDETBIEDL_SYNDROME</text><text x="186.10" y="525.06" font-size="2.75" stroke-width="0.07">WP_CILIOPATHIES</text><text x="186.10" y="532.91" font-size="2.75" stroke-width="0.07">WP_HEMATOPOIETIC_STEM_CELL_GENE_REGULATION_BY_GABP_ALPHABETA_COMPLEX</text><text x="186.10" y="540.76" font-size="2.75" stroke-width="0.07">WP_CYTOPLASMIC_RIBOSOMAL_PROTEINS</text><text x="186.10" y="548.61" font-size="2.75" stroke-width="0.07">WP_NSP1_FROM_SARSCOV2_INHIBITS_TRANSLATION_INITIATION_IN_THE_HOST_CELL</text><text x="186.10" y="556.46" font-size="2.75" stroke-width="0.07">WP_PURINERGIC_SIGNALING</text><text x="186.10" y="564.31" font-size="2.75" stroke-width="0.07">WP_MICRORNAS_IN_CARDIOMYOCYTE_HYPERTROPHY</text><text x="186.10" y="572.16" font-size="2.75" stroke-width="0.07">WP_G13_SIGNALING_PATHWAY</text><text x="186.10" y="580.01" font-size="2.75" stroke-width="0.07">WP_CAMKK2_PATHWAY</text><text x="186.10" y="587.86" font-size="2.75" stroke-width="0.07">WP_OXIDATIVE_STRESS_RESPONSE</text><text x="186.10" y="595.71" font-size="2.75" stroke-width="0.07">WP_FOLLICLE_STIMULATING_HORMONE_FSH_SIGNALING_PATHWAY</text><text x="186.10" y="603.56" font-size="2.75" stroke-width="0.07">WP_COMMON_PATHWAYS_UNDERLYING_DRUG_ADDICTION</text><text x="186.10" y="611.41" font-size="2.75" stroke-width="0.07">WP_THYROXINE_THYROID_HORMONE_PRODUCTION</text><text x="186.10" y="619.26" font-size="2.75" stroke-width="0.07">WP_REGULATION_OF_ACTIN_CYTOSKELETON</text><text x="186.10" y="627.11" font-size="2.75" stroke-width="0.07">WP_NEUROINFLAMMATION_AND_GLUTAMATERGIC_SIGNALING</text><text x="186.10" y="634.96" font-size="2.75" stroke-width="0.07">WP_GLYCOSPHINGOLIPID_METABOLISM</text><text x="186.10" y="642.81" font-size="2.75" stroke-width="0.07">WP_PEPTIDE_GPCRS</text><text x="186.10" y="650.66" font-size="2.75" stroke-width="0.07">WP_ACE_INHIBITOR_PATHWAY</text><text x="316.40" y="496.37" font-size="4.10" stroke-width="0.1">2</text><text x="316.40" y="507.07" font-size="4.10" stroke-width="0.1">1</text><text x="316.40" y="517.77" font-size="4.10" stroke-width="0.1">0</text><text x="316.40" y="528.47" font-size="4.10" stroke-width="0.1">−1</text><text x="316.40" y="539.17" font-size="4.10" stroke-width="0.1">−2</text><text x="321.90" y="489.54" font-size="3.90" font-weight="bold" stroke-width="0.1">cluster</text><text x="329.40" y="495.05" font-size="3.90" stroke-width="0.1">A</text><text x="329.40" y="500.55" font-size="3.90" stroke-width="0.1">B</text><text x="321.90" y="509.07" font-size="3.90" font-weight="bold" stroke-width="0.1">Project</text><text x="329.40" y="514.90" font-size="3.90" stroke-width="0.1">AML</text></svg>
<script>
(function(){
var HM=[{"x0": 25.6, "xg0": 116.3, "xg1": 117.8, "x1": 235.8, "y0": 31.0, "y1": 220.6, "mu": [[-0.15, 0.0], [-0.15, 0.0], [-0.2, 0.3], [-0.2, 0.3], [-0.2, 0.3], [-0.2, 0.3], [-0.2, 0.3], [-0.2, 0.3], [-0.35, 0.35], [-0.35, 0.35], [-0.35, 0.35], [-0.35, 0.35], [-0.35, 0.35], [-0.35, 0.35], [-0.35, 0.35], [-0.35, 0.35], [-0.35, 0.35], [-0.35, 0.35], [-0.35, 0.35], [-0.35, 0.35]], "seed": 11}, {"x0": 370.2, "xg0": 460.0, "xg1": 461.1, "x1": 578.7, "y0": 30.8, "y1": 220.5, "mu": [[0.25, -0.15], [0.3, -0.25], [-0.35, 0.2], [-0.35, 0.3], [-0.4, 0.25], [-0.3, 0.3]], "seed": 22}, {"x0": 25.9, "xg0": 99.7, "xg1": 101.2, "x1": 197.9, "y0": 266.2, "y1": 456.5, "mu": [[0.4, -0.3], [0.45, -0.3], [-0.38, 0.35], [-0.38, 0.35], [-0.38, 0.35], [-0.38, 0.35], [-0.38, 0.35], [-0.38, 0.35], [-0.38, 0.35], [-0.38, 0.35], [-0.38, 0.35], [-0.38, 0.35], [-0.38, 0.35], [-0.38, 0.35], [-0.38, 0.35], [-0.38, 0.35], [-0.38, 0.35], [-0.38, 0.35], [-0.38, 0.35], [-0.38, 0.35]], "seed": 33}, {"x0": 366.9, "xg0": 396.7, "xg1": 398.2, "x1": 438.0, "y0": 264.0, "y1": 421.8, "mu": [[0.55, -0.5], [0.55, -0.5], [0.55, -0.5], [0.55, -0.5], [0.55, -0.5], [0.55, -0.5], [0.55, -0.5], [0.55, -0.5], [0.35, 0.2], [0.3, 0.2], [-0.45, 0.45], [-0.45, 0.45], [-0.45, 0.45], [-0.45, 0.45], [-0.45, 0.45], [-0.45, 0.45], [-0.45, 0.45], [-0.45, 0.45], [-0.45, 0.45], [-0.45, 0.45]], "seed": 44}, {"x0": 21.0, "xg0": 90.4, "xg1": 91.8, "x1": 183.3, "y0": 496.6, "y1": 653.6, "mu": [[0.35, -0.3], [0.35, -0.3], [0.35, -0.3], [0.35, -0.3], [0.35, -0.3], [0.35, -0.3], [0.35, -0.3], [-0.3, 0.35], [-0.3, 0.35], [-0.3, 0.35], [-0.3, 0.35], [-0.3, 0.35], [-0.3, 0.35], [-0.3, 0.35], [-0.3, 0.35], [-0.3, 0.35], [-0.3, 0.35], [-0.3, 0.35], [-0.3, 0.35], [-0.3, 0.35]], "seed": 55}];
var cv=document.getElementById('hm');var c=cv.getContext('2d');
function rng(s){return function(){s|=0;s=s+0x6D2B79F5|0;var t=Math.imul(s^s>>>15,1|s);t=t+Math.imul(t^t>>>7,61|t)^t;return((t^t>>>14)>>>0)/4294967296;};}
function gauss(r){var u=r()||1e-9,v=r();return Math.sqrt(-2*Math.log(u))*Math.cos(6.283185*v);}
var B=[10,112,225],Y=[160,196,0];
function col(v){var a,cc;if(v>=0){a=Math.min(1,v/0.8);cc=B;}else{a=Math.min(1,-v/0.7);cc=Y;}
 return [cc[0]*a,cc[1]*a,cc[2]*a];}
HM.forEach(function(h){
 var r=rng(h.seed);var n=h.mu.length;var rh=(h.y1-h.y0)/n;
 [[h.x0,h.xg0,0],[h.xg1,h.x1,1]].forEach(function(g){
  var w=g[1]-g[0];var nc=Math.round(w/1.0);var cw=w/nc;
  c.save();c.beginPath();c.rect(g[0],h.y0,w,h.y1-h.y0);c.clip();
  var ce=[];for(var j=0;j<nc;j++)ce.push(gauss(r));
  for(var k=0;k<n;k++){var m=h.mu[k][g[2]];var cols=[];
   for(var j=0;j<nc;j++){var v=m+0.8*ce[j]+0.45*gauss(r);cols.push(col(v));}
   for(var j=0;j<nc;j++){var p=cols[Math.max(0,j-1)],q=cols[j],s2=cols[Math.min(nc-1,j+1)];
    var rr=0.15*p[0]+(1-2*0.15)*q[0]+0.15*s2[0],gg=0.15*p[1]+(1-2*0.15)*q[1]+0.15*s2[1],bb=0.15*p[2]+(1-2*0.15)*q[2]+0.15*s2[2];
    c.fillStyle='rgb('+Math.round(rr)+','+Math.round(gg)+','+Math.round(bb)+')';
    c.fillRect(g[0]+j*cw,h.y0+k*rh,cw+1,rh+1);}}
  c.restore();
 });
});
})();
</script>
</body></html>
